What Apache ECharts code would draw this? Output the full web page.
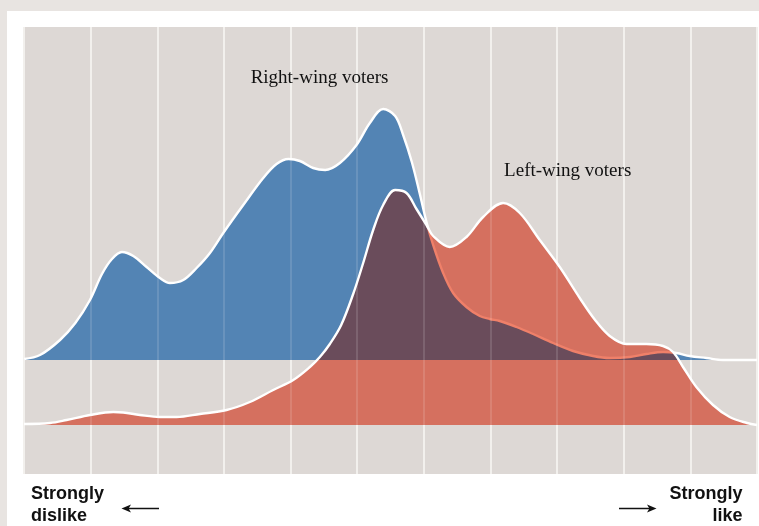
<!DOCTYPE html>
<html><head><meta charset="utf-8">
<script src="https://cdn.jsdelivr.net/npm/echarts@6.0.0/dist/echarts.min.js"></script>
<style>
html,body{margin:0;padding:0;background:#e8e4e1;width:759px;height:526px;overflow:hidden;}
#panel{position:absolute;left:7px;top:11px;width:752px;height:515px;background:#ffffff;}
#chart{position:absolute;left:0;top:0;width:759px;height:526px;}
</style></head><body>
<div id="panel"></div><div id="chart"></div>
<script>
// Opinion scale positions (0 = strongly dislike ... 11 = strongly like)
const blueX = [0, 0.24, 0.54, 0.77, 0.99, 1.17, 1.32, 1.47, 1.64, 1.84, 2.04, 2.19, 2.39, 2.59, 2.79, 2.99, 3.29, 3.59, 3.79, 3.97, 4.14, 4.34, 4.52, 4.74, 4.99, 5.19, 5.39, 5.57, 5.69, 5.82, 5.94, 6.04, 6.14, 6.29, 6.44, 6.64, 6.84, 6.99, 7.14, 7.39, 7.64, 7.94, 8.24, 8.54, 8.79, 9.09, 9.34, 9.59, 9.79, 9.99, 10.24, 10.49, 11];
const blueY = [0.001, 0.005, 0.020, 0.037, 0.060, 0.086, 0.101, 0.108, 0.104, 0.093, 0.082, 0.077, 0.080, 0.092, 0.107, 0.127, 0.155, 0.182, 0.196, 0.201, 0.199, 0.192, 0.190, 0.197, 0.215, 0.237, 0.251, 0.244, 0.225, 0.198, 0.166, 0.138, 0.115, 0.087, 0.067, 0.053, 0.044, 0.041, 0.039, 0.033, 0.026, 0.017, 0.009, 0.004, 0.002, 0.003, 0.006, 0.008, 0.007, 0.004, 0.002, 0.000, 0.000];
const redX = [0, 0.39, 0.64, 0.99, 1.34, 1.49, 1.74, 2.04, 2.29, 2.64, 3.04, 3.39, 3.74, 4.04, 4.29, 4.44, 4.59, 4.76, 4.94, 5.09, 5.24, 5.39, 5.57, 5.74, 5.89, 6.04, 6.14, 6.39, 6.64, 6.89, 7.19, 7.44, 7.74, 8.04, 8.34, 8.57, 8.79, 9.04, 9.34, 9.59, 9.74, 9.89, 10.09, 10.34, 10.59, 10.85, 11];
const redY = [0.001, 0.002, 0.005, 0.010, 0.013, 0.0125, 0.010, 0.008, 0.008, 0.011, 0.015, 0.023, 0.035, 0.045, 0.058, 0.068, 0.081, 0.100, 0.131, 0.162, 0.195, 0.220, 0.235, 0.232, 0.216, 0.200, 0.189, 0.178, 0.188, 0.208, 0.222, 0.212, 0.185, 0.158, 0.127, 0.105, 0.089, 0.081, 0.081, 0.079, 0.073, 0.058, 0.038, 0.020, 0.008, 0.002, 0];
const seriesNames = ['Right-wing voters', 'Left-wing voters'];
const axisLabels = ['Strongly', 'dislike', 'Strongly', 'like'];

const pairs = (xs, ys) => xs.map((x, i) => [x, ys[i]]);
const blueData = pairs(blueX, blueY);
const redData = pairs(redX, redY);

const BLUE = '#5384b4', RED = '#d5705f', PURPLE = '#6a4c5b', SALMON = '#ef8069';
const base = {type: 'line', smooth: 0.35, symbol: 'none', showSymbol: false, silent: true, animation: false, xAxisIndex: 0};
const noLine = {width: 0};
const whiteLine = {color: '#ffffff', width: 2.4};

const chart = echarts.init(document.getElementById('chart'));
const hiddenX = {type: 'value', min: 0, max: 11, interval: 1, axisLine: {show: false}, axisTick: {show: false}, axisLabel: {show: false}};
chart.setOption({
  animation: false,
  grid: {left: 24, right: 2, top: 27, bottom: 52, show: true, backgroundColor: '#ddd8d5', borderWidth: 0},
  xAxis: [
    Object.assign({}, hiddenX, {splitLine: {show: true, lineStyle: {color: '#f1eeeb', width: 2}}}),
    Object.assign({}, hiddenX, {zlevel: 3, splitLine: {show: true, lineStyle: {color: 'rgba(255,255,255,0.13)', width: 2}}})
  ],
  yAxis: [
    {type: 'value', min: -0.114, max: 0.333, show: false},
    {type: 'value', min: -0.049, max: 0.398, show: false}
  ],
  series: [
    Object.assign({}, base, {name: seriesNames[1], data: redData, yAxisIndex: 1, zlevel: 0, z: 2, lineStyle: noLine, areaStyle: {color: RED, opacity: 1}}),
    Object.assign({}, base, {name: seriesNames[0], data: blueData, yAxisIndex: 0, zlevel: 1, z: 1, lineStyle: noLine, areaStyle: {color: BLUE, opacity: 1}}),
    Object.assign({}, base, {name: 'overlap', data: redData, yAxisIndex: 1, zlevel: 1, z: 2, lineStyle: noLine, areaStyle: {color: PURPLE, opacity: 1}, blendMode: 'source-atop'}),
    Object.assign({}, base, {name: seriesNames[0] + ' line', data: blueData, yAxisIndex: 0, zlevel: 2, z: 1, lineStyle: whiteLine}),
    Object.assign({}, base, {name: 'line mask', data: redData, yAxisIndex: 1, zlevel: 2, z: 2, lineStyle: noLine, areaStyle: {color: SALMON, opacity: 1}, blendMode: 'source-atop'}),
    Object.assign({}, base, {name: seriesNames[1] + ' line', data: redData, yAxisIndex: 1, zlevel: 2, z: 3, lineStyle: whiteLine})
  ],
  graphic: [
    {type: 'text', zlevel: 4, x: 319.5, y: 77.6, style: {text: seriesNames[0], fontFamily: 'Liberation Serif', fontSize: 19, fill: '#111111', align: 'center', verticalAlign: 'middle'}},
    {type: 'text', zlevel: 4, x: 567.7, y: 171, style: {text: seriesNames[1], fontFamily: 'Liberation Serif', fontSize: 19, fill: '#111111', align: 'center', verticalAlign: 'middle'}},
    {type: 'text', zlevel: 4, x: 31, y: 493.8, style: {text: axisLabels[0], fontFamily: 'Liberation Sans', fontWeight: 'bold', fontSize: 18, fill: '#111111', align: 'left', verticalAlign: 'middle'}},
    {type: 'text', zlevel: 4, x: 31, y: 516.3, style: {text: axisLabels[1], fontFamily: 'Liberation Sans', fontWeight: 'bold', fontSize: 18, fill: '#111111', align: 'left', verticalAlign: 'middle'}},
    {type: 'text', zlevel: 4, x: 742.5, y: 493.8, style: {text: axisLabels[2], fontFamily: 'Liberation Sans', fontWeight: 'bold', fontSize: 18, fill: '#111111', align: 'right', verticalAlign: 'middle'}},
    {type: 'text', zlevel: 4, x: 742.5, y: 516.3, style: {text: axisLabels[3], fontFamily: 'Liberation Sans', fontWeight: 'bold', fontSize: 18, fill: '#111111', align: 'right', verticalAlign: 'middle'}},
    {type: 'line', zlevel: 4, shape: {x1: 126, y1: 508.5, x2: 159, y2: 508.5}, style: {stroke: '#111111', lineWidth: 1.3}},
    {type: 'polygon', zlevel: 4, shape: {points: [[121.5, 508.5], [131, 504.6], [128.6, 508.5], [131, 512.4]]}, style: {fill: '#111111'}},
    {type: 'line', zlevel: 4, shape: {x1: 619, y1: 508.5, x2: 652, y2: 508.5}, style: {stroke: '#111111', lineWidth: 1.3}},
    {type: 'polygon', zlevel: 4, shape: {points: [[656.5, 508.5], [647, 504.6], [649.4, 508.5], [647, 512.4]]}, style: {fill: '#111111'}}
  ]
});
</script>
</body></html>
